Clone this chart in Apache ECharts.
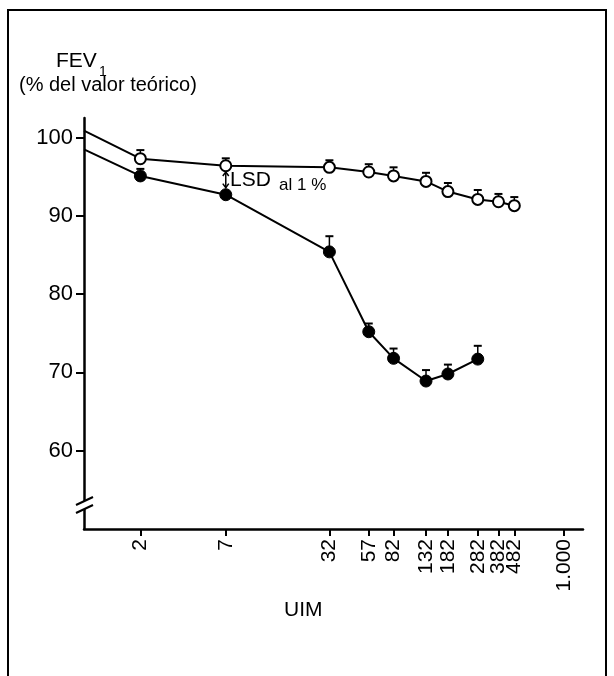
<!DOCTYPE html>
<html>
<head>
<meta charset="utf-8">
<script src="https://cdn.jsdelivr.net/npm/echarts@6/dist/echarts.min.js"></script>
<style>
  html, body { margin: 0; padding: 0; background: #fff; }
  #chart { width: 614px; height: 676px; }
</style>
</head>
<body>
<div id="chart"></div>
<script>
// UIM doses (log axis); the lines start at the axis origin
const uimStart = 0.875
const uimTicks = [2, 7, 32, 57, 82, 132, 182, 282, 382, 482, 1000]
const uimOpen = [2, 7, 32, 57, 82, 132, 182, 282, 382, 482]
const uimFilled = [2, 7, 32, 57, 82, 132, 182, 282]

// FEV1 (% del valor teórico)
const startOpen = 100.9
const startFilled = 98.5
const fevOpen = [97.3, 96.4, 96.2, 95.6, 95.1, 94.4, 93.1, 92.1, 91.8, 91.3]
const errOpen = [1.1, 0.95, 0.9, 1.0, 1.1, 1.1, 1.1, 1.2, 1.0, 1.1]
const fevFilled = [95.1, 92.7, 85.4, 75.2, 71.8, 68.9, 69.8, 71.7]
const errFilled = [0.9, null, 2.0, 1.05, 1.25, 1.4, 1.2, 1.7]
const yTicks = [60, 70, 80, 90, 100]

// LSD al 1 % bar at UIM 7
const lsd = [7, 93.6, 95.6]

const font = 'Liberation Sans, Arial, Helvetica, sans-serif'
const chart = echarts.init(document.getElementById('chart'))

function lineData(start, xs, ys) {
  const out = [{ value: [uimStart, start], symbol: 'none' }]
  xs.forEach((x, i) => out.push([x, ys[i]]))
  return out
}

function errData(xs, ys, es) {
  const out = []
  xs.forEach((x, i) => {
    if (es[i] != null) out.push([x, ys[i], es[i]])
  })
  return out
}

function renderErr(params, api) {
  const p0 = api.coord([api.value(0), api.value(1)])
  const p1 = api.coord([api.value(0), api.value(1) + api.value(2)])
  return {
    type: 'group',
    children: [
      { type: 'line', shape: { x1: p0[0], y1: p0[1], x2: p1[0], y2: p1[1] }, style: { stroke: '#000', lineWidth: 1.5 } },
      { type: 'line', shape: { x1: p1[0] - 4, y1: p1[1], x2: p1[0] + 4, y2: p1[1] }, style: { stroke: '#000', lineWidth: 2 } }
    ]
  }
}

function renderLsd(params, api) {
  const lo = api.coord([api.value(0), api.value(1)])
  const hi = api.coord([api.value(0), api.value(2)])
  const x = lo[0]
  return {
    type: 'group',
    children: [
      { type: 'line', shape: { x1: x, y1: lo[1], x2: x, y2: hi[1] }, style: { stroke: '#000', lineWidth: 1.5 } },
      { type: 'polyline', shape: { points: [[x - 3, hi[1] + 4], [x, hi[1]], [x + 3, hi[1] + 4]] }, style: { stroke: '#000', fill: 'none', lineWidth: 1.5 } },
      { type: 'polyline', shape: { points: [[x - 3, lo[1] - 4], [x, lo[1]], [x + 3, lo[1] - 4]] }, style: { stroke: '#000', fill: 'none', lineWidth: 1.5 } }
    ]
  }
}

chart.setOption({
  backgroundColor: '#fff',
  animation: false,
  grid: {
    left: 84,
    right: 31,
    top: 118,
    bottom: 147,
    containLabel: false,
    outerBoundsMode: 'none'
  },
  xAxis: {
    type: 'log',
    min: uimStart,
    max: 1320,
    axisLine: { show: true, lineStyle: { color: '#000', width: 2.5 } },
    axisTick: { show: true, inside: false, length: 7, lineStyle: { color: '#000', width: 2 }, customValues: uimTicks },
    axisLabel: {
      color: '#000',
      fontSize: 21,
      fontFamily: font,
      rotate: 90,
      margin: 10,
      customValues: uimTicks,
      formatter: v => (v === 1000 ? '1.000' : String(v))
    },
    splitLine: { show: false },
    minorTick: { show: false }
  },
  yAxis: {
    type: 'value',
    min: 50,
    max: 102.5,
    axisLine: { show: true, lineStyle: { color: '#000', width: 2.5 } },
    axisTick: { show: true, inside: false, length: 8, lineStyle: { color: '#000', width: 2 }, customValues: yTicks },
    axisLabel: { color: '#000', fontSize: 22, fontFamily: font, margin: 11, customValues: yTicks },
    splitLine: { show: false }
  },
  graphic: [
    { type: 'rect', shape: { x: 8, y: 10, width: 598, height: 700 }, style: { fill: 'none', stroke: '#000', lineWidth: 2 }, silent: true },
    { type: 'text', left: 56, top: 51, style: { text: 'FEV', fontSize: 21, fontFamily: font, fill: '#000' } },
    { type: 'text', left: 99, top: 65, style: { text: '1', fontSize: 14, fontFamily: font, fill: '#000' } },
    { type: 'text', left: 19, top: 75, style: { text: '(% del valor teórico)', fontSize: 20, fontFamily: font, fill: '#000' } },
    { type: 'text', left: 230, top: 170, style: { text: 'LSD', fontSize: 21, fontFamily: font, fill: '#000' } },
    { type: 'text', left: 279, top: 177, style: { text: 'al 1 %', fontSize: 17, fontFamily: font, fill: '#000' } },
    { type: 'text', left: 284, top: 600, style: { text: 'UIM', fontSize: 21, fontFamily: font, fill: '#000' } },
    // axis break marks
    { type: 'rect', shape: { x: 80, y: 501, width: 8, height: 8 }, style: { fill: '#fff' }, z: 100 },
    { type: 'line', shape: { x1: 76, y1: 505, x2: 93, y2: 497 }, style: { stroke: '#000', lineWidth: 2 }, z: 101 },
    { type: 'line', shape: { x1: 76, y1: 513, x2: 93, y2: 505 }, style: { stroke: '#000', lineWidth: 2 }, z: 101 }
  ],
  series: [
    {
      type: 'custom', renderItem: renderErr, data: errData(uimOpen, fevOpen, errOpen), z: 1, silent: true
    },
    {
      type: 'custom', renderItem: renderErr, data: errData(uimFilled, fevFilled, errFilled), z: 1, silent: true
    },
    {
      type: 'custom', renderItem: renderLsd, data: [lsd], z: 1, silent: true
    },
    {
      type: 'line',
      data: lineData(startOpen, uimOpen, fevOpen),
      symbol: 'circle',
      symbolSize: 11,
      lineStyle: { color: '#000', width: 2 },
      itemStyle: { color: '#fff', borderColor: '#000', borderWidth: 2 },
      z: 3
    },
    {
      type: 'line',
      data: lineData(startFilled, uimFilled, fevFilled),
      symbol: 'circle',
      symbolSize: 12,
      lineStyle: { color: '#000', width: 2 },
      itemStyle: { color: '#000', borderColor: '#000', borderWidth: 1 },
      z: 3
    }
  ]
})
</script>
</body>
</html>
